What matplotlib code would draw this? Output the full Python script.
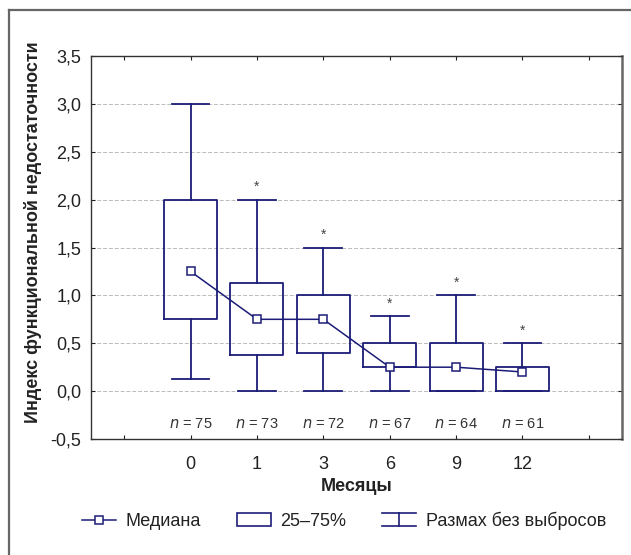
import matplotlib.pyplot as plt
import matplotlib.lines as mlines
import matplotlib.patches as mpatches
from matplotlib.legend_handler import HandlerBase
from matplotlib.ticker import FuncFormatter

plt.rcParams['font.family'] = ['Liberation Sans', 'DejaVu Sans']

# данные
months = ['0', '1', '3', '6', '9', '12']
n_values = [75, 73, 72, 67, 64, 61]
whisk_lo = [0.125, 0.0, 0.0, 0.0, 0.0, 0.0]
whisk_hi = [3.0, 2.0, 1.5, 0.78, 1.0, 0.5]
q25 = [0.75, 0.375, 0.4, 0.25, 0.0, 0.0]
q75 = [2.0, 1.125, 1.0, 0.5, 0.5, 0.25]
medians = [1.25, 0.75, 0.75, 0.25, 0.25, 0.2]
signif = [False, True, True, True, True, True]

navy = '#1c1c78'
positions = list(range(1, len(months) + 1))

fig = plt.figure(figsize=(6.31, 5.55), dpi=100)
ax = fig.add_axes([91 / 631, 1 - 439 / 555, 531 / 631, 383 / 555])

stats = []
for i in range(len(months)):
    stats.append({'whislo': whisk_lo[i], 'q1': q25[i], 'med': medians[i],
                  'q3': q75[i], 'whishi': whisk_hi[i], 'fliers': []})

ax.bxp(stats, positions=positions, widths=0.8, capwidths=0.57,
       showfliers=False, patch_artist=False,
       boxprops=dict(color=navy, lw=1.3),
       whiskerprops=dict(color=navy, lw=1.3),
       capprops=dict(color=navy, lw=1.3),
       medianprops=dict(visible=False))

ax.plot(positions, medians, color=navy, lw=1.1, marker='s', ms=5.5,
        mfc='white', mec=navy, mew=1.1, zorder=5)

for p, hi, s in zip(positions, whisk_hi, signif):
    if s:
        ax.text(p, hi + 0.06, '*', ha='center', va='bottom', fontsize=10,
                color='#444444')

for p, n in zip(positions, n_values):
    ax.text(p, -0.34, '$n$ = %d' % n, ha='center', va='center', fontsize=10.5,
            color='#333333')

ax.set_xlim(-0.5, 7.5)
ax.set_ylim(-0.5, 3.5)
ax.set_xticks(range(0, 8))
ax.set_xticklabels([''] + months + [''])
ax.set_yticks([-0.5, 0, 0.5, 1.0, 1.5, 2.0, 2.5, 3.0, 3.5])
ax.yaxis.set_major_formatter(FuncFormatter(lambda v, p: ('%.1f' % v).replace('.', ',')))
ax.tick_params(direction='in', length=3, labelsize=13, top=True, right=True,
               colors='#222222', pad=7)
ax.tick_params(axis='x', pad=12)
for sp in ax.spines.values():
    sp.set_color('#333333')
    sp.set_linewidth(1.0)
ax.spines['right'].set_color('#666666')
ax.spines['right'].set_linewidth(1.8)

ax.yaxis.grid(True, ls=(0, (4, 2)), color='#bbbbbb', lw=0.7)
ax.set_axisbelow(True)

ax.set_xlabel('Месяцы', fontsize=13, fontweight='bold', color='#222222', labelpad=4)
ax.set_ylabel('Индекс функциональной недостаточности', fontsize=13,
              fontweight='bold', color='#222222')
ax.yaxis.set_label_coords(-0.092, 0.54)

# внешняя рамка
fig.add_artist(mlines.Line2D([9 / 631, 1], [1 - 10 / 555, 1 - 10 / 555],
                             transform=fig.transFigure, color='#666666', lw=1.6))
fig.add_artist(mlines.Line2D([9 / 631, 9 / 631], [0, 1 - 10 / 555],
                             transform=fig.transFigure, color='#666666', lw=1.6))


class WhiskerHandler(HandlerBase):
    def create_artists(self, legend, orig, xd, yd, w, h, fontsize, trans):
        x0, x1 = xd + 0, xd + w
        xm = xd + w / 2
        top = mlines.Line2D([x0, x1], [yd + h, yd + h], color=navy, lw=1.2, transform=trans)
        bot = mlines.Line2D([x0, x1], [yd, yd], color=navy, lw=1.2, transform=trans)
        mid = mlines.Line2D([xm, xm], [yd, yd + h], color=navy, lw=1.2, transform=trans)
        return [top, bot, mid]


h_med = mlines.Line2D([], [], color=navy, lw=1.1, marker='s', ms=5.5,
                      mfc='white', mec=navy, mew=1.1)
h_box = mpatches.Rectangle((0, 0), 1, 1, facecolor='white', edgecolor=navy, lw=1.2)
h_whisk = mlines.Line2D([], [])

fig.legend([h_med, h_box, h_whisk], ['Медиана', '25–75%', 'Размах без выбросов'],
           handler_map={h_whisk: WhiskerHandler()},
           loc='center', bbox_to_anchor=(0.545, 1 - 521 / 555), ncol=3,
           frameon=False, fontsize=13, handlelength=1.9, handleheight=0.75,
           columnspacing=2.0, handletextpad=0.5, labelcolor='#222222')

fig.savefig('out.png', dpi=100)
